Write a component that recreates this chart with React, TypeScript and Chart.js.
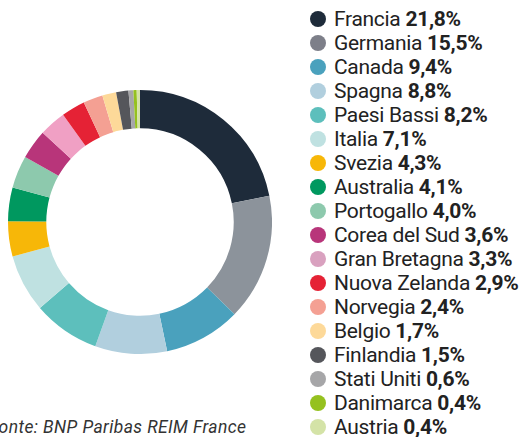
import React, { useEffect, useRef } from "react";
import { Chart, registerables } from "chart.js";

Chart.register(...registerables);

const countries = [
  "Francia", "Germania", "Canada", "Spagna", "Paesi Bassi", "Italia", "Svezia",
  "Australia", "Portogallo", "Corea del Sud", "Gran Bretagna", "Nuova Zelanda",
  "Norvegia", "Belgio", "Finlandia", "Stati Uniti", "Danimarca", "Austria",
];
const shares = [21.8, 15.5, 9.4, 8.8, 8.2, 7.1, 4.3, 4.1, 4.0, 3.6, 3.3, 2.9, 2.4, 1.7, 1.5, 0.6, 0.4, 0.4];
const colors = [
  "#1e2b3a", "#8c939b", "#4aa1bd", "#b1cfde", "#5dbfbc", "#bfe1e1", "#f7b708",
  "#00985f", "#8dc9ad", "#b8357a", "#f0a0c4", "#e52235", "#f4a093", "#fdd999",
  "#55565b", "#a6a6a8", "#95c11f", "#d4e3a7",
];
const legendDotColors = [
  "#1e2b3a", "#7d7f89", "#4aa1bd", "#b1cfde", "#5dbfbc", "#bfe1e1", "#f7b708",
  "#00985f", "#8dc9ad", "#b8357a", "#d9a1bf", "#e52235", "#f4a093", "#fdd999",
  "#55565b", "#a6a6a8", "#95c11f", "#d4e3a7",
];
const sourceText = "Fonte: BNP Paribas REIM France";

const fmt = (v: number) => v.toFixed(1).replace(".", ",") + "%";

export default function App() {
  const ref = useRef<HTMLCanvasElement | null>(null);
  useEffect(() => {
    if (!ref.current) return;
    const chart = new Chart(ref.current, {
      type: "doughnut",
      data: {
        labels: countries,
        datasets: [{ data: shares, backgroundColor: colors, borderWidth: 0 }],
      },
      options: {
        animation: false,
        responsive: false,
        cutout: "71%",
        layout: { padding: 0 },
        plugins: { legend: { display: false }, tooltip: { enabled: false } },
      },
    });
    return () => chart.destroy();
  }, []);

  const font = "Roboto, 'Noto Sans', sans-serif";
  return (
    <div style={{ position: "fixed", left: 0, top: 0, width: 521, height: 437, background: "#fff", overflow: "hidden" }}>
      <canvas ref={ref} width={264} height={264} style={{ position: "absolute", left: 8, top: 90, width: 264, height: 264 }} />
      {countries.map((c, i) => (
        <div key={c} style={{ position: "absolute", left: 310, top: 19 + i * 24 - 12, height: 24, display: "flex", alignItems: "center", whiteSpace: "nowrap" }}>
          <span style={{ display: "inline-block", width: 16, height: 16, borderRadius: 8, background: legendDotColors[i], marginRight: 8 }} />
          <span style={{ fontFamily: font, fontSize: 21, lineHeight: "24px", color: "#222", letterSpacing: -0.3 }}>
            {c} <b style={{ fontWeight: 700 }}>{fmt(shares[i])}</b>
          </span>
        </div>
      ))}
      <div style={{ position: "absolute", left: -11, top: 417, lineHeight: "20px", fontFamily: font, fontStyle: "italic", fontSize: 17.5, color: "#333", letterSpacing: 0.4, whiteSpace: "nowrap" }}>
        {sourceText}
      </div>
    </div>
  );
}
